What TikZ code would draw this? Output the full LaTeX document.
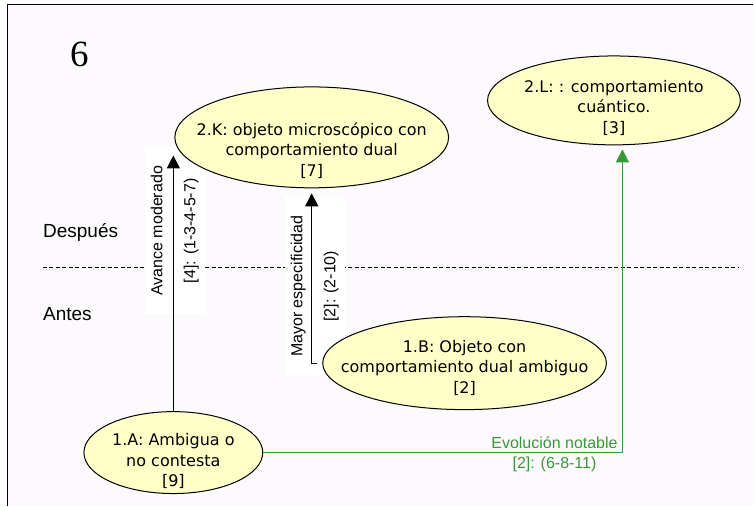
\documentclass[tikz,border=0pt]{standalone}
\usepackage{fontspec}
\setmainfont{Liberation Sans}
\newfontfamily\ideafont{DejaVu Sans}
\newfontfamily\numfont{Liberation Serif}
\usetikzlibrary{shapes.geometric,arrows.meta}
\definecolor{ideafill}{RGB}{255,255,200}
\definecolor{evolgreen}{RGB}{56,152,56}
\definecolor{paper}{RGB}{253,250,254}
\newcommand{\lift}[1]{\rule{0pt}{#1pt}}

\begin{document}
\begin{tikzpicture}[x=1pt, y=1pt, >={Triangle[length=13pt,width=13pt]}, font=\fontsize{16}{19}\selectfont]
	\tikzset{idea/.style={draw, ellipse, fill=ideafill, line width=1pt, inner xsep=-50pt, inner ysep=-20pt, align=center, font=\ideafont\fontsize{16}{20.5}\selectfont},
		tag/.style={fill=white, rotate=90, align=center, inner xsep=19pt, inner ysep=6pt, font=\fontsize{16}{33}\selectfont},
		link/.style={->, line width=1.3pt}}
	% sheet
	\fill[white] (0,0) rectangle (754,506);
	\fill[paper] (7.5,0) rectangle (754,501.5);
	\draw[line width=1.4pt] (754,501.5) -- (7.5,501.5) -- (7.5,0);
	\node[anchor=base west, inner sep=0pt, font=\numfont\fontsize{37}{40}\selectfont] (num) at (70,439) {6};
	% before / after
	\draw[dash pattern=on 4pt off 2.5pt, line width=0.8pt] (43,238) -- (739,238);
	\node[anchor=base west, inner sep=0pt, font=\fontsize{19}{22}\selectfont] (despues) at (43,268) {Después};
	\node[anchor=base west, inner sep=0pt, font=\fontsize{19}{22}\selectfont] (antes) at (43,185) {Antes};
	% labels of the links
	\node[tag] (avance) at (175,275) {Avance moderado\\{[4]: (1-3-4-5-7)}};
	\node[tag] (mayor) at (315,219.5) {Mayor especificidad\\{[2]: (2-10)}};
	\node[text=evolgreen, align=center, font=\fontsize{16}{20}\selectfont] (evol) at (555,51) {Evolución notable\\{[2]: (6-8-11)}};
	% ideas
	\node[idea, minimum width=274pt, minimum height=101pt] (K) at (312,368.5) {\lift{39}2.K: objeto microscópico con\\comportamiento dual\\{[7]}};
	\node[idea, minimum width=253pt, minimum height=89pt] (L) at (614.5,405.5) {\lift{27}2.L: : comportamiento\\cuántico.\\{[3]}};
	\node[idea, minimum width=284pt, minimum height=93pt] (B) at (465,142.5) {\lift{21}1.B: Objeto con\\comportamiento dual ambiguo\\{[2]}};
	\node[idea, minimum width=179pt, minimum height=82pt] (A) at (173.5,53) {\lift{29}1.A: Ambigua o\\no contesta\\{[9]}};
	% links
	\draw[link] (A.north) -- (A.north |- K.188);
	\draw[link, shorten <=5pt, shorten >=5pt] (B.west) -| (K.south);
	\draw[link, evolgreen, line width=1.2pt, shorten >=4pt] (A.east) -| ([xshift=8.5pt]L.south);
\end{tikzpicture}
\end{document}
